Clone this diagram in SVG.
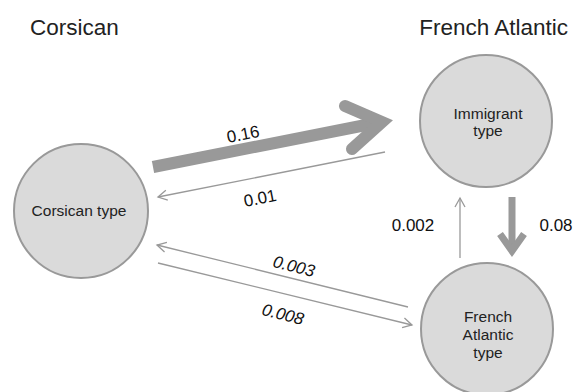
<svg xmlns="http://www.w3.org/2000/svg" width="583" height="392" viewBox="0 0 583 392">
<style>
.node{fill:#dadada;stroke:#999;stroke-width:2}
.nt{font-family:"Liberation Sans",Arial,sans-serif;font-size:15.5px;fill:#222;text-anchor:middle}
.title{font-family:"Liberation Sans",Arial,sans-serif;font-size:22.5px;fill:#222}
.lbl{font-family:"Liberation Sans",Arial,sans-serif;font-size:17px;fill:#111;text-anchor:middle}
.it{font-style:italic}
.thin{stroke:#999;stroke-width:1.3;fill:none}
.thick{stroke:#999;fill:none}
</style>
<defs>
<marker id="open" viewBox="-11 -7 13 14" markerWidth="13" markerHeight="14" refX="0" refY="0" orient="auto" markerUnits="userSpaceOnUse">
<path d="M-9,-5 L0,0 L-9,5" fill="none" stroke="#999" stroke-width="1.3"/>
</marker>
</defs>
<rect width="583" height="392" fill="#fff"/>
<text class="title" x="30" y="35">Corsican</text>
<text class="title" x="568" y="35" text-anchor="end">French Atlantic</text>
<g id="connectors">
<g id="c-cors-imm">
<line class="thick" x1="153" y1="167" x2="376" y2="123" stroke-width="12"/>
<polyline class="thick" points="345,106 382,122 352,149" stroke-width="12" stroke-linecap="round" stroke-linejoin="miter"/>
</g>
<line class="thin" x1="385" y1="152" x2="158" y2="197" marker-end="url(#open)"/>
<line class="thin" x1="408" y1="307" x2="157" y2="245" marker-end="url(#open)"/>
<line class="thin" x1="158" y1="263" x2="412" y2="325" marker-end="url(#open)"/>
<line class="thin" x1="460" y1="258" x2="460" y2="198" marker-end="url(#open)"/>
<g id="c-imm-fa">
<line class="thick" x1="512" y1="197" x2="512" y2="248" stroke-width="7"/>
<polyline class="thick" points="500,234 512,251 524,234" stroke-width="7" stroke-linejoin="miter"/>
</g>
<g transform="translate(243,134) rotate(-11)"><text class="lbl" y="6">0.16</text></g>
<g transform="translate(260,198) rotate(-11)"><text class="lbl" y="6">0.01</text></g>
<g transform="translate(294,266) rotate(13.8)"><text class="lbl it" y="6">0.003</text></g>
<g transform="translate(283,314) rotate(13.8)"><text class="lbl it" y="6">0.008</text></g>
<text class="lbl" x="413" y="231">0.002</text>
<text class="lbl" x="556" y="231">0.08</text>
</g>
<g id="corsican">
<circle class="node" cx="81" cy="211" r="67"/>
<text class="nt" x="79" y="216">Corsican type</text>
</g>
<g id="immigrant">
<circle class="node" cx="486" cy="121" r="66"/>
<text class="nt" x="488" y="119">Immigrant</text>
<text class="nt" x="488" y="136">type</text>
</g>
<g id="french-atlantic">
<circle class="node" cx="487" cy="329" r="66"/>
<text class="nt" x="488" y="322">French</text>
<text class="nt" x="488" y="340">Atlantic</text>
<text class="nt" x="488" y="358">type</text>
</g>
</svg>
